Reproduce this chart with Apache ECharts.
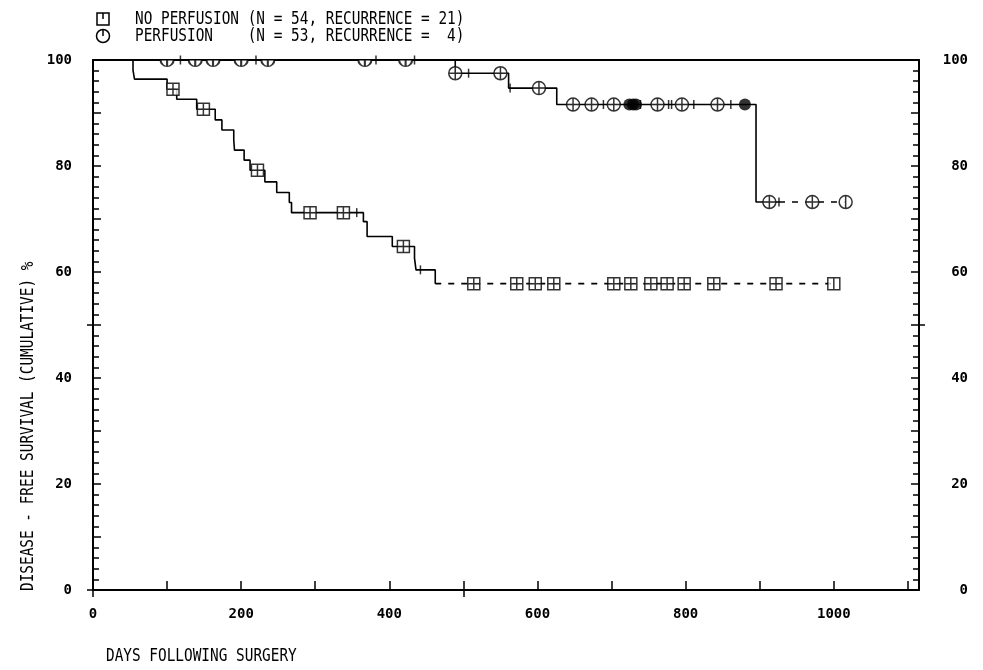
<!DOCTYPE html>
<html>
<head>
<meta charset="utf-8">
<script src="https://cdn.jsdelivr.net/npm/echarts@6/dist/echarts.min.js"></script>
<style>
  html, body { margin: 0; padding: 0; background: #fff; }
  #chart { width: 983px; height: 670px; }
</style>
</head>
<body>
<div id="chart"></div>
<script>
// --- data: [day, % disease-free] ---
// no perfusion: step points (drop happens at the day given)
const noPerfSteps = [
  [0, 100], [54, 98.1], [56, 96.4], [100, 94.5], [113, 92.6], [140, 90.7],
  [165, 88.7], [174, 86.8], [190, 84.9], [191, 83.0], [204, 81.1], [212, 79.2],
  [232, 77.0], [248, 75.0], [265, 73.1], [268, 71.2], [365, 69.5], [370, 66.7],
  [404, 64.8], [434, 62.6], [436, 60.4], [462, 57.8]
];
const noPerfTail = [[462, 57.8], [1000, 57.8]];
const noPerfCensored = [
  [108, 94.5], [149, 90.7], [222, 79.2], [293, 71.2], [338, 71.2], [419, 64.8],
  [514, 57.8], [572, 57.8], [597, 57.8], [622, 57.8], [703, 57.8], [726, 57.8],
  [753, 57.8], [775, 57.8], [798, 57.8], [838, 57.8], [922, 57.8], [1000, 57.8]
];
const noPerfTicks = [[356, 71.2], [442, 60.4]];

// perfusion
const perfSteps = [[0, 100], [489, 97.5], [561, 94.7], [626, 91.6], [895, 73.2], [926, 73.2]];
const perfTail = [[926, 73.2], [1016, 73.2]];
const perfCensTop = [100, 138, 162, 200, 236, 367, 422];
const perfCensored = [
  [489, 97.5], [550, 97.5], [602, 94.7],
  [648, 91.6], [673, 91.6], [703, 91.6], [762, 91.6], [795, 91.6], [843, 91.6],
  [913, 73.2], [971, 73.2], [1016, 73.2]
];
const perfDense = [[724, 91.6], [729, 91.6], [733, 91.6], [880, 91.6]];
const perfTicks = [
  [118, 100], [220, 100], [382, 100], [434, 100], [507, 97.5], [563, 94.7],
  [689, 91.6], [739, 91.6], [777, 91.6], [781, 91.6], [811, 91.6], [861, 91.6], [926, 73.2]
];

const xMax = 1115;
const legendText = [
  'NO PERFUSION (N = 54, RECURRENCE = 21)',
  'PERFUSION    (N = 53, RECURRENCE =  4)'
];
const xTitle = 'DAYS FOLLOWING SURGERY';
const yTitle = 'DISEASE - FREE SURVIVAL (CUMULATIVE) %';

// marker shapes
const SQ_CROSS = 'path://M0,0H12V12H0Z M6,0V12 M0,6H12';
const SQ_BAR = 'path://M0,0H12V12H0Z M6,0V12';
const CIR_CROSS = 'path://M0,6A6,6 0 1,1 12,6A6,6 0 1,1 0,6Z M6,0V12 M0,6H12';
const CIR_BAR = 'path://M0,6A6,6 0 1,1 12,6A6,6 0 1,1 0,6Z M6,0V12';
const HALF_CIR = 'path://M0,0A6,6 0 0,0 12,0Z M6,0V6';

const MONO = '"DejaVu Sans Mono", "Liberation Mono", monospace';
const black = '#000';

const chart = echarts.init(document.getElementById('chart'));

const lastOf = (arr, sym) => arr.map((p, i) =>
  i === arr.length - 1 ? { value: p, symbol: sym } : p);

const tickLabel = { color: black, fontFamily: MONO, fontWeight: 'bold', fontSize: 14 };
const axisLine = { show: true, onZero: false, lineStyle: { color: black, width: 2 } };
const tickLine = { color: black, width: 1.5 };

const markerStyle = { color: '#fff', borderColor: black, borderWidth: 1.5 };

const option = {
  backgroundColor: '#fff',
  animation: false,
  grid: [
    { left: 93, right: 64, top: 60, bottom: 80 },
    { left: 93, right: 64, top: 60, bottom: 80 }
  ],
  xAxis: [
    {
      type: 'value', min: 0, max: xMax, interval: 100, position: 'bottom',
      axisLine: axisLine,
      axisTick: { show: true, inside: true, length: 9, lineStyle: tickLine },
      axisLabel: Object.assign({
        margin: 17,
        formatter: v => (v % 200 === 0 && v <= 1000) ? String(v) : '',
        showMaxLabel: false
      }, tickLabel),
      splitLine: { show: false }
    },
    {
      type: 'value', min: 0, max: xMax, position: 'top',
      axisLine: axisLine, axisTick: { show: false }, axisLabel: { show: false },
      splitLine: { show: false }
    },
    {
      // crossing ticks below the axis
      gridIndex: 1, type: 'value', min: 0, max: xMax, position: 'bottom',
      axisLine: { show: false, onZero: false },
      axisTick: { show: true, inside: false, length: 7, customValues: [0, 500], lineStyle: tickLine },
      axisLabel: { show: false }, splitLine: { show: false }
    }
  ],
  yAxis: [
    {
      type: 'value', min: 0, max: 100, interval: 10, position: 'left',
      axisLine: axisLine,
      axisTick: { show: true, inside: true, length: 8, lineStyle: tickLine },
      minorTick: { show: true, splitNumber: 5, length: 6, lineStyle: tickLine },
      axisLabel: Object.assign({ margin: 21, formatter: v => v % 20 === 0 ? String(v) : '' }, tickLabel),
      splitLine: { show: false }, minorSplitLine: { show: false }
    },
    {
      type: 'value', min: 0, max: 100, interval: 10, position: 'right',
      axisLine: axisLine,
      axisTick: { show: true, inside: true, length: 8, lineStyle: tickLine },
      minorTick: { show: true, splitNumber: 5, length: 6, lineStyle: tickLine },
      axisLabel: Object.assign({ margin: 49, align: 'right', formatter: v => v % 20 === 0 ? String(v) : '' }, tickLabel),
      splitLine: { show: false }, minorSplitLine: { show: false }
    },
    {
      gridIndex: 1, type: 'value', min: 0, max: 100, position: 'left',
      axisLine: { show: false, onZero: false },
      axisTick: { show: true, inside: false, length: 6, customValues: [0, 50], lineStyle: tickLine },
      axisLabel: { show: false }, splitLine: { show: false }
    },
    {
      gridIndex: 1, type: 'value', min: 0, max: 100, position: 'right',
      axisLine: { show: false, onZero: false },
      axisTick: { show: true, inside: false, length: 6, customValues: [50], lineStyle: tickLine },
      axisLabel: { show: false }, splitLine: { show: false }
    }
  ],
  series: [
    {
      name: 'noPerf', type: 'line', step: 'end', data: noPerfSteps,
      showSymbol: false, lineStyle: { color: black, width: 1.6 }, z: 2
    },
    {
      name: 'noPerfTail', type: 'line', data: noPerfTail,
      showSymbol: false, lineStyle: { color: black, width: 1.6, type: [6, 7] }, z: 2
    },
    {
      name: 'perf', type: 'line', step: 'end', data: perfSteps,
      showSymbol: false, lineStyle: { color: black, width: 1.6 }, z: 2
    },
    {
      name: 'perfTail', type: 'line', data: perfTail,
      showSymbol: false, lineStyle: { color: black, width: 1.6, type: [6, 7] }, z: 2
    },
    {
      type: 'scatter', data: noPerfTicks.concat(perfTicks),
      symbol: 'rect', symbolSize: [1.5, 9], itemStyle: { color: black }, z: 3
    },
    {
      type: 'scatter', data: lastOf(noPerfCensored, SQ_BAR),
      symbol: SQ_CROSS, symbolSize: 12, itemStyle: markerStyle, z: 4
    },
    {
      type: 'scatter', data: lastOf(perfCensored, CIR_BAR),
      symbol: CIR_CROSS, symbolSize: 13, itemStyle: markerStyle, z: 4
    },
    {
      type: 'scatter', data: perfDense,
      symbol: 'circle', symbolSize: 12, itemStyle: { color: black }, z: 5
    },
    {
      type: 'scatter', data: perfCensTop.map(d => [d, 100]),
      symbol: HALF_CIR, symbolSize: [13, 6.5], symbolOffset: [0, 3.25],
      itemStyle: markerStyle, z: 4
    }
  ],
  graphic: [
    { type: 'rect', shape: { x: 97, y: 13, width: 12, height: 12 }, style: { fill: '#fff', stroke: black, lineWidth: 1.5 } },
    { type: 'line', shape: { x1: 103, y1: 13, x2: 103, y2: 19 }, style: { stroke: black, lineWidth: 1.5 } },
    { type: 'circle', shape: { cx: 103, cy: 36, r: 6.5 }, style: { fill: '#fff', stroke: black, lineWidth: 1.5 } },
    { type: 'line', shape: { x1: 103, y1: 29.5, x2: 103, y2: 36 }, style: { stroke: black, lineWidth: 1.5 } },
    {
      type: 'text', x: 135, y: 19.5, scaleX: 0.8,
      style: { text: legendText[0], font: '18px ' + MONO, fill: black, textAlign: 'left', textVerticalAlign: 'middle' }
    },
    {
      type: 'text', x: 135, y: 36, scaleX: 0.8,
      style: { text: legendText[1], font: '18px ' + MONO, fill: black, textAlign: 'left', textVerticalAlign: 'middle' }
    },
    {
      type: 'text', x: 106, y: 656, scaleX: 0.8,
      style: { text: xTitle, font: '18px ' + MONO, fill: black, textAlign: 'left', textVerticalAlign: 'middle' }
    },
    {
      type: 'text', x: 28, y: 591, rotation: Math.PI / 2, scaleX: 0.8,
      style: { text: yTitle, font: '18px ' + MONO, fill: black, textAlign: 'left', textVerticalAlign: 'middle' }
    }
  ]
};

chart.setOption(option);
</script>
</body>
</html>
